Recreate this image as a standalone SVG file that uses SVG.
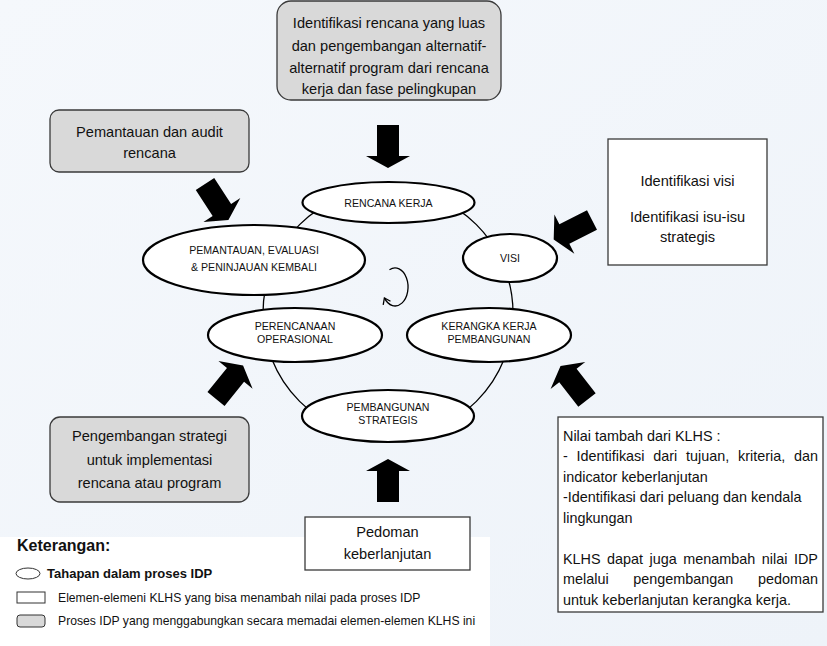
<svg xmlns="http://www.w3.org/2000/svg" width="827" height="646" viewBox="0 0 827 646">
<defs>
<linearGradient id="bg" x1="0" y1="0" x2="1" y2="1">
<stop offset="0" stop-color="#f5f8fc"/>
<stop offset="1" stop-color="#eef3f9"/>
</linearGradient>
<path id="arr" d="M0,-11 L31,-11 L31,-22 L43,0 L31,22 L31,11 L0,11 Z"/>
</defs>
<style>
.t{font-family:"Liberation Sans",Arial,sans-serif;fill:#111;}
.bx{font-size:14.6px;text-anchor:middle;}
.el{font-size:10.6px;text-anchor:middle;}
.gray{fill:#d9d9d9;stroke:#3a3a3a;stroke-width:1.3;}
.wbox{fill:#fff;stroke:#3a3a3a;stroke-width:1.3;}
.stage{fill:#fff;stroke:#000;stroke-width:2.2;}
.cyc{fill:none;stroke:#000;stroke-width:1.3;}
.big{fill:#000;}
.lg{font-size:12.2px;}
.lgb{font-weight:bold;}
.nv{font-size:14.4px;}
</style>
<rect x="0" y="0" width="827" height="646" fill="url(#bg)"/>
<rect x="0" y="537" width="490" height="109" fill="#fff"/>

<g id="connectors">
<circle class="cyc" cx="388" cy="313" r="125"/>
<path class="cyc" d="M389.5,269.8 A13 19 0 1 1 384.4,297.9"/>
<polyline class="cyc" points="383.2,304.8 384.4,297.9 390.5,301.3"/>
<use href="#arr" class="big" transform="translate(388,125) rotate(90)"/>
<use href="#arr" class="big" transform="translate(388,502) rotate(-90)"/>
<use href="#arr" class="big" transform="translate(205,184) rotate(57)"/>
<use href="#arr" class="big" transform="translate(592,220) rotate(153)"/>
<use href="#arr" class="big" transform="translate(216,399) rotate(-51)"/>
<use href="#arr" class="big" transform="translate(587,400) rotate(-128)"/>
</g>

<g id="box-top">
<rect class="gray" x="277" y="1" width="224" height="99" rx="14"/>
<text class="t bx" x="389" y="28">Identifikasi rencana yang luas</text>
<text class="t bx" x="389" y="51">dan pengembangan alternatif-</text>
<text class="t bx" x="389" y="73">alternatif program dari rencana</text>
<text class="t bx" x="389" y="94">kerja dan fase pelingkupan</text>
</g>

<g id="box-pemantauan">
<rect class="gray" x="50" y="110" width="199" height="62" rx="9"/>
<text class="t bx" x="149.5" y="137">Pemantauan dan audit</text>
<text class="t bx" x="149.5" y="158">rencana</text>
</g>

<g id="box-visi">
<rect class="wbox" x="608" y="139" width="159" height="126"/>
<text class="t bx" x="687.5" y="186">Identifikasi visi</text>
<text class="t bx" x="687.5" y="222">Identifikasi isu-isu</text>
<text class="t bx" x="687.5" y="242">strategis</text>
</g>

<g id="box-pengembangan">
<rect class="gray" x="50" y="417" width="199" height="85" rx="10"/>
<text class="t bx" x="149.5" y="441">Pengembangan strategi</text>
<text class="t bx" x="149.5" y="465">untuk implementasi</text>
<text class="t bx" x="149.5" y="488">rencana atau program</text>
</g>

<g id="box-pedoman">
<rect class="wbox" x="305" y="517" width="165" height="53"/>
<text class="t bx" x="387.5" y="537">Pedoman</text>
<text class="t bx" x="387.5" y="559">keberlanjutan</text>
</g>

<g id="box-nilai">
<rect class="wbox" x="558" y="417" width="265" height="195"/>
<text class="t nv" x="563" y="441">Nilai tambah dari KLHS :</text>
<text class="t nv" y="461"><tspan x="563">-</tspan><tspan x="576.5">Identifikasi</tspan><tspan x="653.3">dari</tspan><tspan x="686">tujuan,</tspan><tspan x="738">kriteria,</tspan><tspan x="793.9">dan</tspan></text>
<text class="t nv" x="563" y="481.5">indicator keberlanjutan</text>
<text class="t nv" x="563" y="502">-Identifikasi dari peluang dan kendala</text>
<text class="t nv" x="563" y="522.5">lingkungan</text>
<text class="t nv" y="563.5"><tspan x="563">KLHS</tspan><tspan x="607.1">dapat</tspan><tspan x="649.6">juga</tspan><tspan x="683.3">menambah</tspan><tspan x="761.8">nilai</tspan><tspan x="793.9">IDP</tspan></text>
<text class="t nv" y="584"><tspan x="563">melalui</tspan><tspan x="633.3">pengembangan</tspan><tspan x="758">pedoman</tspan></text>
<text class="t nv" x="563" y="604.5">untuk keberlanjutan  kerangka kerja.</text>
</g>

<g id="stage-rencana">
<ellipse class="stage" cx="388.5" cy="202.5" rx="86" ry="20.5"/>
<text class="t el" x="388.5" y="206.5">RENCANA KERJA</text>
</g>

<g id="stage-pemantauan">
<ellipse class="stage" cx="254" cy="260" rx="111" ry="35"/>
<text class="t el" x="254" y="254">PEMANTAUAN, EVALUASI</text>
<text class="t el" x="254" y="271">&amp; PENINJAUAN KEMBALI</text>
</g>

<g id="stage-visi">
<ellipse class="stage" cx="510" cy="258" rx="47" ry="24"/>
<text class="t el" x="510" y="262">VISI</text>
</g>

<g id="stage-perencanaan">
<ellipse class="stage" cx="295" cy="335" rx="87" ry="27"/>
<text class="t el" x="295" y="330">PERENCANAAN</text>
<text class="t el" x="295" y="343">OPERASIONAL</text>
</g>

<g id="stage-kerangka">
<ellipse class="stage" cx="489" cy="335" rx="82" ry="27"/>
<text class="t el" x="489" y="330">KERANGKA KERJA</text>
<text class="t el" x="489" y="343">PEMBANGUNAN</text>
</g>

<g id="stage-strategis">
<ellipse class="stage" cx="388" cy="416" rx="86" ry="26"/>
<text class="t el" x="388" y="411">PEMBANGUNAN</text>
<text class="t el" x="388" y="424">STRATEGIS</text>
</g>

<g id="legend">
<text class="t lgb" font-size="16" x="17" y="551">Keterangan:</text>
<ellipse cx="28" cy="573.5" rx="12" ry="5.5" fill="#fff" stroke="#333" stroke-width="1"/>
<text class="t lgb" font-size="13" x="47" y="578">Tahapan dalam proses IDP</text>
<rect x="17" y="592" width="28" height="11" fill="#fff" stroke="#333" stroke-width="1"/>
<text class="t lg" x="58" y="602">Elemen-elemeni KLHS yang bisa menambah nilai pada proses IDP</text>
<rect x="17" y="615" width="28" height="12" rx="3" fill="#d9d9d9" stroke="#333" stroke-width="1"/>
<text class="t lg" x="58" y="625">Proses IDP yang menggabungkan secara memadai elemen-elemen KLHS ini</text>
</g>
</svg>
